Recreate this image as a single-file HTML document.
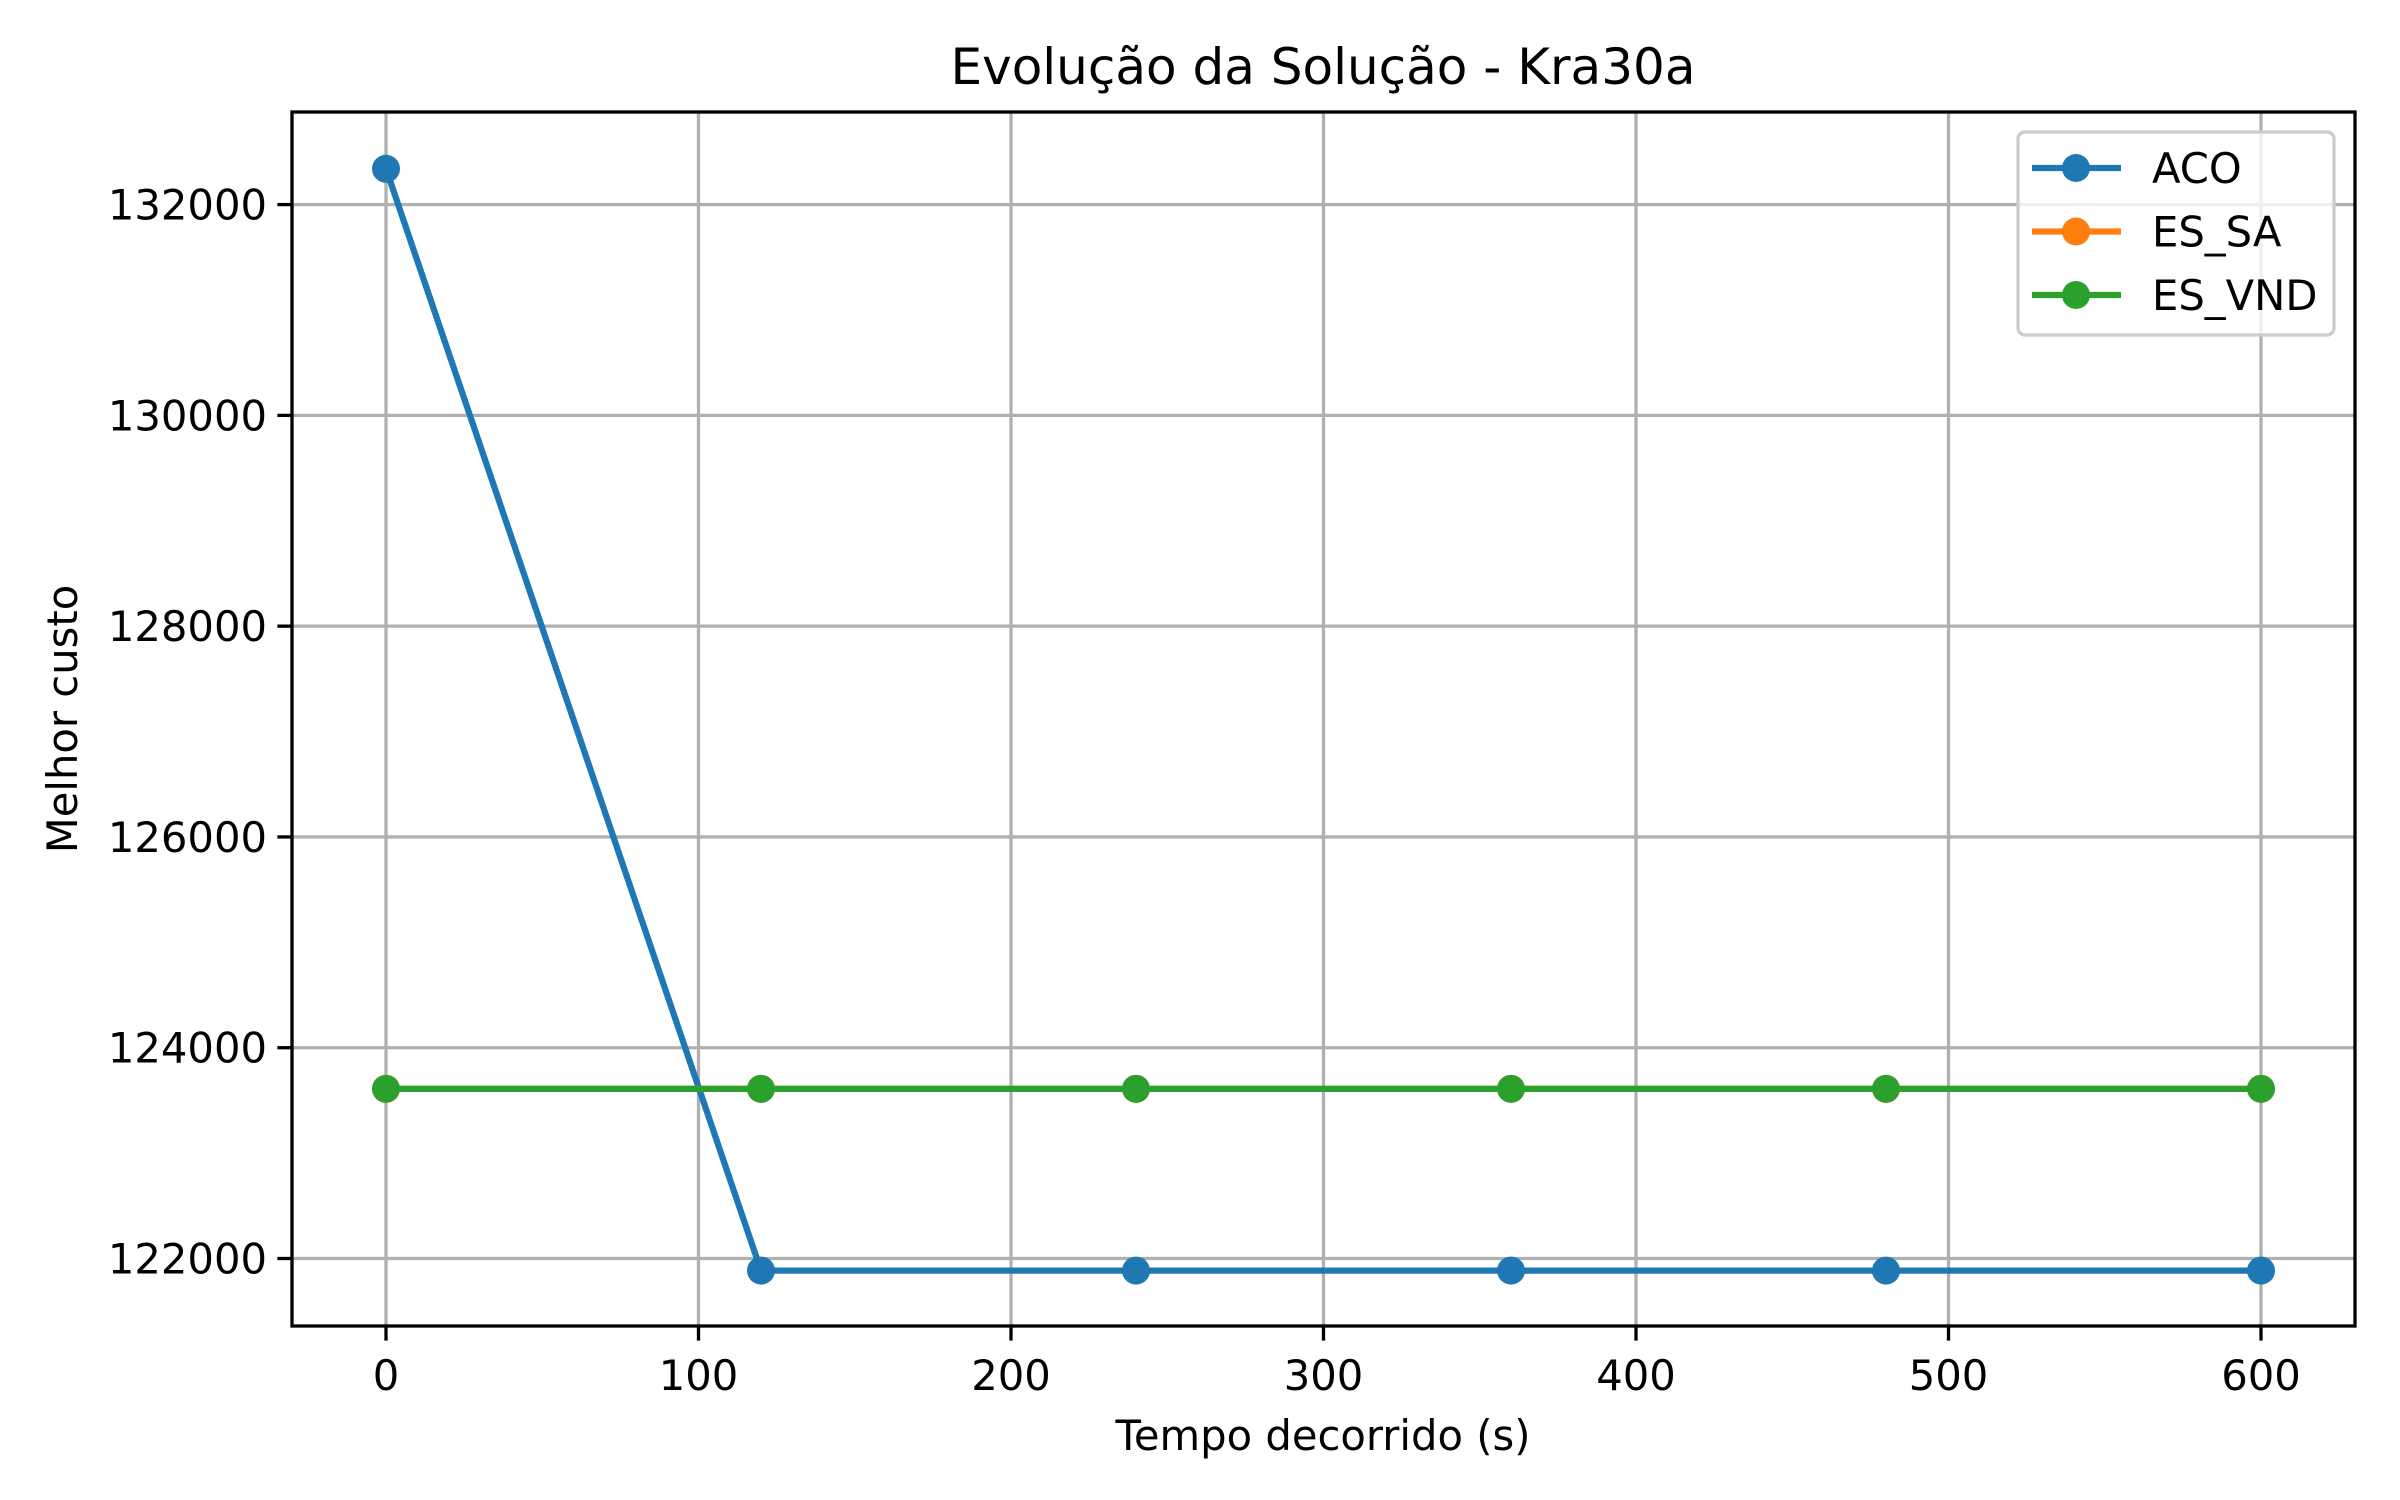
<!DOCTYPE html>
<html><head><meta charset="utf-8"><style>body{margin:0;background:#fff}svg{display:block}text{font-family:"DejaVu Sans","Liberation Sans",sans-serif;fill:#000}</style></head>
<body>
<svg id="chart" width="2400" height="1500" viewBox="0 0 2400 1500" xmlns="http://www.w3.org/2000/svg">
<rect width="2400" height="1500" fill="#fff"/>
<g id="grid"></g>
<g id="series"></g>
<rect x="292" y="112" width="2063" height="1214" fill="none" stroke="#000" stroke-width="3.3"/>
<g id="ticks"></g>
<text x="1323" y="84" font-size="50" text-anchor="middle">Evolução da Solução - Kra30a</text>
<text x="1323" y="1450" font-size="41.7" text-anchor="middle">Tempo decorrido (s)</text>
<text x="0" y="0" font-size="41.7" text-anchor="middle" transform="translate(77,719) rotate(-90)">Melhor custo</text>
<g id="legend">
<rect x="2018" y="132" width="316" height="203" rx="7" fill="#fff" fill-opacity="0.8" stroke="#ccc" stroke-width="3.3"/>
</g>
</svg>
<script>
const times=[0,120,240,360,480,600];
const acoValues=[132340,121885,121885,121885,121885,121885];
const esSaValues=[123610,123610,123610,123610,123610,123610];
const esVndValues=[123610,123610,123610,123610,123610,123610];
const xTicks=[0,100,200,300,400,500,600];
const yTicks=[122000,124000,126000,128000,130000,132000];
const seriesNames=["ACO","ES_SA","ES_VND"];
const NS="http://www.w3.org/2000/svg";
const X=v=>386+(v-0)*(2261-386)/600;
const Y=v=>1258.5-(v-122000)*(1258.5-204.6)/10000;
const L=292,R=2355,T=112,B=1326;
function mk(tag,attrs,parent){const e=document.createElementNS(NS,tag);for(const k in attrs)e.setAttribute(k,attrs[k]);parent.appendChild(e);return e;}
const grid=document.getElementById('grid'),ticks=document.getElementById('ticks'),ser=document.getElementById('series'),leg=document.getElementById('legend');
xTicks.forEach(v=>{const x=X(v);
 const g=mk('line',{x1:x,x2:x,y1:T,y2:B,stroke:'#b0b0b0','stroke-width':3.3},grid);
 
 
 const t=mk('line',{x1:x,x2:x,y1:B,y2:B+14.6,stroke:'#000','stroke-width':3.3},ticks);
 
 
 const l=mk('text',{x:x,y:1390,'font-size':41.7,'text-anchor':'middle'},ticks);l.textContent=v;
 
 
});
yTicks.forEach(v=>{const y=Y(v);
 const g=mk('line',{x1:L,x2:R,y1:y,y2:y,stroke:'#b0b0b0','stroke-width':3.3},grid);
 
 
 const t=mk('line',{x1:L-14.6,x2:L,y1:y,y2:y,stroke:'#000','stroke-width':3.3},ticks);
 
 
 const l=mk('text',{x:L-25,y:y+15,'font-size':41.7,'text-anchor':'end'},ticks);l.textContent=v;
 
 
});
const colors=['#1f77b4','#ff7f0e','#2ca02c'];
[acoValues,esSaValues,esVndValues].forEach((vals,i)=>{
 const g=mk('g',{},ser);
 
 
 mk('polyline',{points:vals.map((v,j)=>X(times[j])+','+Y(v)).join(' '),fill:'none',stroke:colors[i],'stroke-width':6.25,'stroke-linejoin':'round'},g);
 vals.forEach((v,j)=>{const c=mk('circle',{cx:X(times[j]),cy:Y(v),r:14,fill:colors[i]},g);
  
  });
 const ly=168+i*63.5;
 const e=mk('g',{},leg);
 
 
 mk('line',{x1:2032,x2:2121,y1:ly,y2:ly,stroke:colors[i],'stroke-width':6.25},e);
 mk('circle',{cx:2076,cy:ly,r:14,fill:colors[i]},e);
 const t=mk('text',{x:2152,y:ly+15,'font-size':41.7},e);t.textContent=seriesNames[i];
});
</script>
</body></html>
